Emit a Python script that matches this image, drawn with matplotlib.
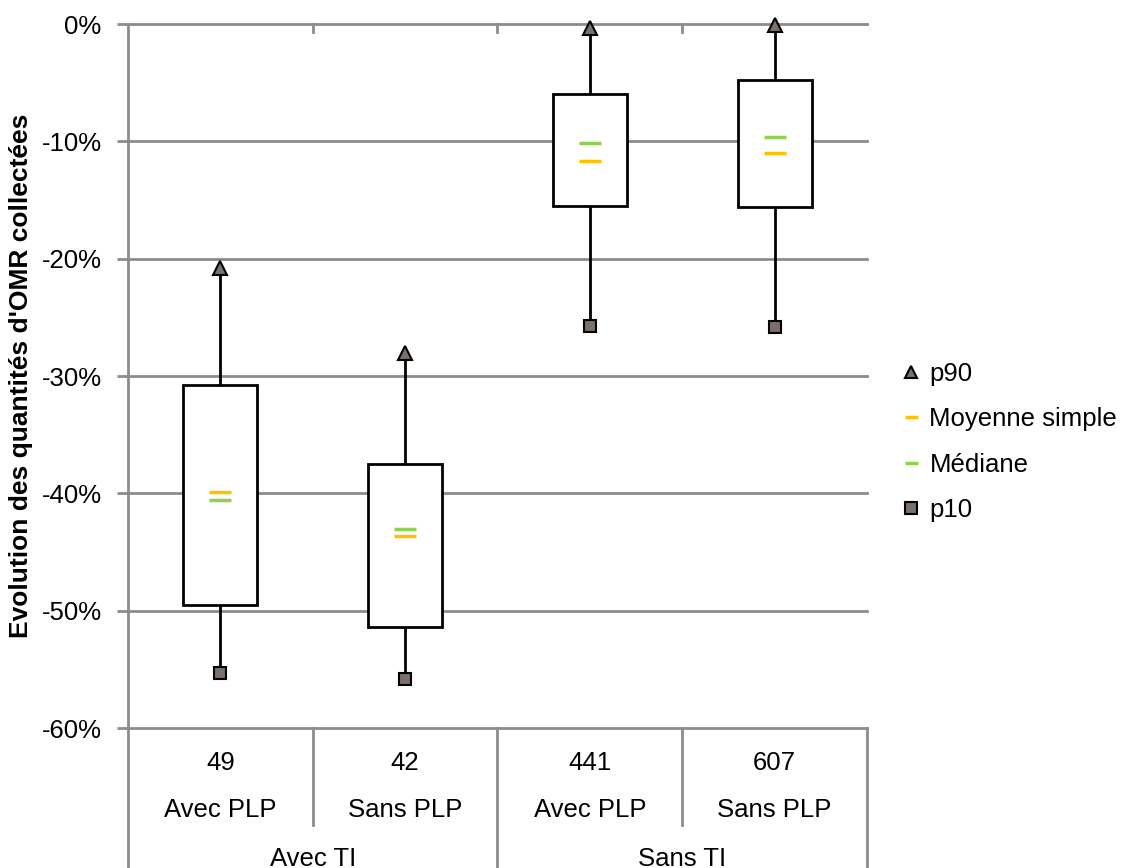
import matplotlib
matplotlib.use("Agg")
import matplotlib.pyplot as plt
from matplotlib.lines import Line2D
from matplotlib.patches import Rectangle

plt.rcParams['font.family'] = ['Liberation Sans', 'DejaVu Sans']

# ---- data (fractions) ----
counts = ["49", "42", "441", "607"]
sub_labels = ["Avec PLP", "Sans PLP", "Avec PLP", "Sans PLP"]
groups = ["Avec TI", "Sans TI"]
p90 = [-0.208, -0.280, -0.003, -0.001]
q3 = [-0.308, -0.375, -0.060, -0.048]
q1 = [-0.495, -0.514, -0.155, -0.156]
median = [-0.406, -0.430, -0.101, -0.096]
mean = [-0.399, -0.436, -0.117, -0.110]
p10 = [-0.553, -0.558, -0.257, -0.258]
yticks = [0, -0.1, -0.2, -0.3, -0.4, -0.5, -0.6]
ytick_labels = ["0%", "-10%", "-20%", "-30%", "-40%", "-50%", "-60%"]

GRID = "#8c8c8c"
MARK = "#7a706c"
ORANGE = "#FFC000"
GREEN = "#92D050"
FS = 18.5

fig = plt.figure(figsize=(11.25, 8.68), dpi=100)
ax = fig.add_axes([128/1125, 1-728/868, (867-128)/1125, (728-24)/868])
ax.set_xlim(0, 4)
ax.set_ylim(-0.6, 0)

for s in ["top", "right", "bottom"]:
    ax.spines[s].set_visible(False)
ax.spines["left"].set_color(GRID)
ax.spines["left"].set_linewidth(2)

for yv in yticks:
    ax.axhline(yv, color=GRID, lw=2, zorder=0, clip_on=False)

ax.set_yticks(yticks)
ax.set_yticklabels(ytick_labels, fontsize=FS)
ax.tick_params(axis="y", length=8, width=2, color=GRID, pad=11)
ax.set_xticks([])

# top ticks at category boundaries (downward from 0%)
for xb in [1, 2, 3]:
    ax.plot([xb, xb], [0, -0.007], color=GRID, lw=2, zorder=1, clip_on=False)

bw = 0.4
mw = 0.12
xs = [0.5, 1.5, 2.5, 3.5]
for i, x in enumerate(xs):
    ax.plot([x, x], [q3[i], p90[i]], color="black", lw=2, zorder=2)
    ax.plot([x, x], [p10[i], q1[i]], color="black", lw=2, zorder=2)
    ax.add_patch(Rectangle((x - bw/2, q1[i]), bw, q3[i] - q1[i],
                           facecolor="white", edgecolor="black", lw=2, zorder=3))
    ax.plot([x - mw/2, x + mw/2], [mean[i], mean[i]], color=ORANGE, lw=2.5,
            solid_capstyle="butt", zorder=4)
    ax.plot([x - mw/2, x + mw/2], [median[i], median[i]], color=GREEN, lw=2.5,
            solid_capstyle="butt", zorder=4)
    ax.plot([x], [p90[i]], marker="^", ms=10, mfc=MARK, mec="black", mew=1.5,
            zorder=5, clip_on=False)
    ax.plot([x], [p10[i]], marker="s", ms=9, mfc=MARK, mec="black", mew=1.5,
            zorder=5, clip_on=False)

ax.set_ylabel("Evolution des quantités d'OMR collectées", fontsize=19,
              fontweight="bold")
ax.yaxis.set_label_coords((33 - 128) / 739, 0.5)

# category table below axis
tr = ax.get_xaxis_transform()
H = 704.0
def yax(py):
    return (728 - py) / H

for xb in [0, 2, 4]:
    ax.plot([xb, xb], [0, yax(870)], color=GRID, lw=2, transform=tr, clip_on=False)
for xb in [1, 3]:
    ax.plot([xb, xb], [0, yax(825)], color=GRID, lw=2, transform=tr, clip_on=False)

for i, x in enumerate(xs):
    ax.text(x, yax(763), counts[i], transform=tr, ha="center", va="center", fontsize=FS)
    ax.text(x, yax(810), sub_labels[i], transform=tr, ha="center", va="center", fontsize=FS)
for g, x in zip(groups, [1, 3]):
    ax.text(x, yax(859), g, transform=tr, ha="center", va="center", fontsize=FS)

handles = [
    Line2D([], [], ls="none", marker="^", ms=9, mfc=MARK, mec="black", mew=1.5),
    Line2D([], [], color=ORANGE, lw=2.5, solid_capstyle="butt"),
    Line2D([], [], color=GREEN, lw=2.5, solid_capstyle="butt"),
    Line2D([], [], ls="none", marker="s", ms=8, mfc=MARK, mec="black", mew=1.5),
]
labels = ["p90", "Moyenne simple", "Médiane", "p10"]
fig.legend(handles, labels, loc="center left", bbox_to_anchor=(905/1125, 1-442/868),
           frameon=False, fontsize=FS, handlelength=0.5, handletextpad=0.45,
           labelspacing=0.82, borderpad=0, borderaxespad=0)

fig.savefig("out.png", dpi=100)
